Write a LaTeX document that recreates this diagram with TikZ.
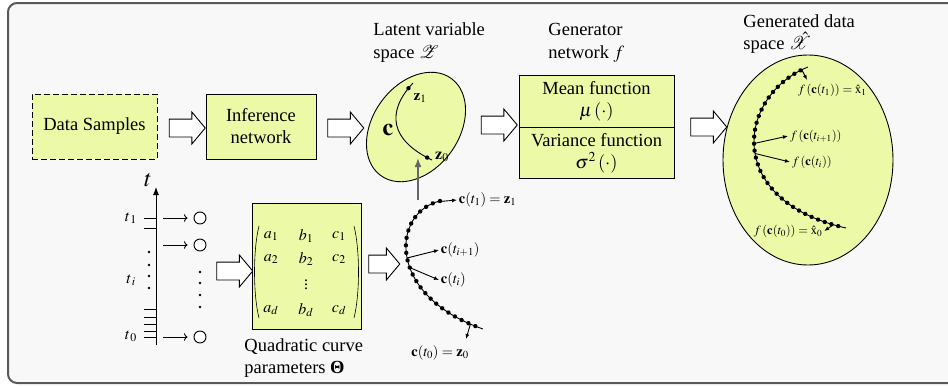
\documentclass[tikz,border=0pt]{standalone}
\usepackage{mathptmx}
\usepackage{fontspec}
\setmainfont{Liberation Serif}
\usetikzlibrary{arrows.meta,shapes.arrows,decorations.markings,positioning}
\definecolor{ylw}{RGB}{236,250,168}
\definecolor{panel}{RGB}{248,248,248}
\tikzset{
  ybox/.style={draw,fill=ylw,align=center,inner sep=0pt,font=\fontsize{18.5}{22}\selectfont},
  bigarrow/.style={single arrow,draw,fill=white,inner xsep=0pt,inner ysep=8.5pt,
    single arrow head extend=7pt,single arrow tip angle=100,minimum height=36pt},
  lbl/.style={anchor=base west,inner sep=0pt,font=\fontsize{18.5}{22}\selectfont},
  small/.style={inner sep=1.5pt,font=\fontsize{14.5}{17}\selectfont},
  tiny/.style={inner sep=1.5pt,font=\fontsize{12.5}{15}\selectfont},
  entry/.style={font=\fontsize{16}{18}\selectfont},
  tip/.style={-{Latex[length=5pt,width=4pt]}},
  dots/.style n args={3}{postaction={decorate,decoration={markings,
    mark=between positions #1 and #2 step #3 with {\fill circle (2.2);}}}}
}
\begin{document}
\begin{tikzpicture}[x=1pt,y=-1pt,line width=0.9pt]
  \useasboundingbox (0,0) rectangle (948,386);
  \draw[rounded corners=9,line width=2pt,draw=black!65,fill=panel] (8,3) rectangle (966,383);

  % top row
  \node[ybox,dash pattern=on 6pt off 3pt,minimum width=125,minimum height=65] (data) at (94.5,126.5) {Data Samples};
  \node[ybox,minimum width=110,minimum height=65] (inf) at (261,126.5) {Inference\\network};
  \node[bigarrow] (a1) at (183.5,128) {};
  \node[bigarrow] (a2) at (342,128) {};

  \node[lbl] (lat1) at (373,35) {Latent variable};
  \node[lbl] (lat2) at (373,58) {space $\mathcal{Z}$};
  \draw[fill=ylw,rotate around={-36:(416,127)}] (416,127) ellipse [x radius=43,y radius=60];
  \draw (413,83) .. controls (386,112) and (390,140) .. (432,160)
    coordinate[pos=0.06] (z1) coordinate[pos=0.96] (z0);
  \fill (z1) circle (2.2); \fill (z0) circle (2.2);
  \node[font=\fontsize{15}{17}\selectfont] (z1l) at (420,98) {$\mathbf{z}_1$};
  \node[font=\fontsize{16}{18}\selectfont] (z0l) at (442,157) {$\mathbf{z}_0$};
  \node[font=\fontsize{24}{26}\selectfont] (cl) at (388,130) {$\mathbf{c}$};
  \node[bigarrow] (a3) at (495.5,125) {};

  \node[lbl] (gen1) at (548,35) {Generator};
  \node[lbl] (gen2) at (548,58) {network $f$};
  \node[ybox,minimum width=155,minimum height=52] (mean) at (596.5,101) {Mean function\\$\mu\left(\cdot\right)$};
  \node[ybox,minimum width=155,minimum height=51,below=0pt of mean] (var) {Variance function\\$\sigma^2\left(\cdot\right)$};
  \node[bigarrow] (a4) at (705,127) {};

  \node[lbl] (gd1) at (743,27) {Generated data};
  \node[lbl] (gd2) at (743,49) {space $\hat{\mathcal{X}}$};
  \draw[fill=ylw] (808,160) ellipse [x radius=85,y radius=105];
  \draw[dots={0.035}{0.965}{0.03}] (808,67) .. controls (738,95) and (722,200) .. (846,228)
    coordinate[pos=0.03] (g1) coordinate[pos=0.48] (gi1) coordinate[pos=0.53] (gi)
    coordinate[pos=0.965] (g0);
  \node[tiny,anchor=west] (gl1) at (796,90) {$f\,(\mathbf{c}(t_1))=\hat{\mathrm{x}}_1$};
  \node[tiny,anchor=west] (gli1) at (788,136) {$f\,(\mathbf{c}(t_{i+1}))$};
  \node[tiny,anchor=west] (gli) at (790,162) {$f\,(\mathbf{c}(t_i))$};
  \node[tiny] (gl0) at (788,231) {$f\,(\mathbf{c}(t_0))=\hat{\mathrm{x}}_0$};
  \coordinate (g1e) at (807,80);
  \draw[tip] (g1) -- (g1e);
  \draw[tip] (gi1) -- (gli1.west);
  \draw[tip] (gi) -- (gli.west);
  \draw[tip] (g0) -- (gl0.east);

  % bottom row
  \coordinate (tb) at (156,345); \coordinate (tt) at (156,187);
  \draw[-{Latex[length=8pt,width=6pt]}] (tb) -- (tt);
  \node[font=\fontsize{24}{26}\selectfont] (tl) at (148,180) {$t$};
  \foreach \y in {218,228,309,317,324,331,337}
    \draw (144,\y) -- (156,\y);
  \foreach \y in {252,265,276,288}
    \fill (149,\y) circle (1.3);
  \node[font=\fontsize{16}{18}\selectfont] (t1) at (131,218) {$t_{\,1}$};
  \node[font=\fontsize{16}{18}\selectfont] (ti) at (131,280) {$t_{\,i}$};
  \node[font=\fontsize{16}{18}\selectfont] (t0) at (131,336) {$t_{\,0}$};
  \foreach \y/\n in {218/1,245/2,337/3}{
    \coordinate (s\n) at (163,\y);
    \node[circle,draw,fill=white,minimum size=12,inner sep=0pt] (o\n) at (200,\y) {};
    \draw[->,shorten >=6pt] (s\n) -- (o\n);}
  \foreach \y in {272,283,295,307}
    \fill (200,\y) circle (1.3);
  \node[bigarrow] (a5) at (231,271) {};

  \node[draw,fill=ylw,minimum width=109,minimum height=126,inner sep=0pt] (theta) at (306.5,266) {};
  \draw[line width=0.6pt] (259,226) .. controls (253,250) and (253,294) .. (259,318);
  \draw[line width=0.6pt] (354,226) .. controls (360,250) and (360,294) .. (354,318);
  \foreach \r/\y in {1/236,2/259,d/310}{
    \node[entry] (a\r) at (271,\y) {$a_{\r}$};
    \node[entry] (b\r) at (306,\y) {$b_{\r}$};
    \node[entry] (c\r) at (339,\y) {$c_{\r}$};}
  \node[entry] (vd) at (306,282) {$\vdots$};
  \node[lbl] (q1) at (244,351) {Quadratic curve};
  \node[lbl] (q2) at (244,373) {parameters \textbf{Θ}};
  \node[bigarrow,minimum height=31pt] (a6) at (380.5,264) {};

  \draw[dots={0}{0.955}{0.0415}] (440,201) .. controls (392,212) and (385,295) .. (483,329)
    coordinate[pos=0.02] (c1) coordinate[pos=0.51] (ci1) coordinate[pos=0.57] (ci)
    coordinate[pos=0.955] (c0);
  \node[small,anchor=west] (cl1) at (457,200) {$\mathbf{c}(t_1)=\mathbf{z}_1$};
  \node[small,anchor=west] (cli1) at (439,250) {$\mathbf{c}(t_{i+1})$};
  \node[small,anchor=west] (cli) at (439,280) {$\mathbf{c}(t_i)$};
  \node[small] (cl0) at (440,353) {$\mathbf{c}(t_0)=\mathbf{z}_0$};
  \coordinate (c0e) at (466,339);
  \draw[tip] (c1) -- (cl1.west);
  \draw[tip] (ci1) -- (cli1.west);
  \draw[tip] (ci) -- (cli.west);
  \draw[tip] (c0) -- (c0e);

  \coordinate (up0) at (418,200); \coordinate (up1) at (418,158);
  \draw[black!60,line width=1.5pt,-{Latex[length=9pt,width=7pt]}] (up0) -- (up1);
\end{tikzpicture}
\end{document}
